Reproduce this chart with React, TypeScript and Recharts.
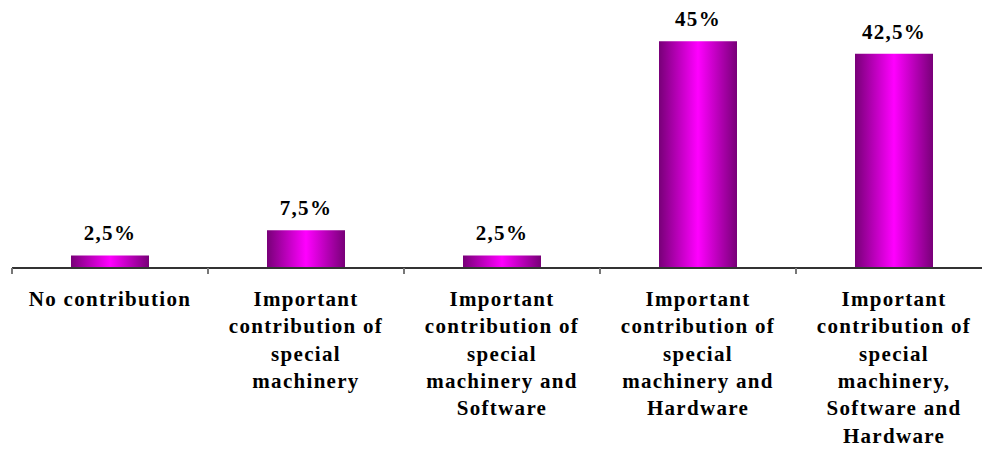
import React from 'react';
import { BarChart, Bar, XAxis, YAxis, LabelList } from 'recharts';

const categories = [
  'No contribution',
  'Important contribution of special machinery',
  'Important contribution of special machinery and Software',
  'Important contribution of special machinery and Hardware',
  'Important contribution of special machinery, Software and Hardware'
];

// wrapped lines of each category label, as in the picture
const categoryLines = [
  ['No contribution'],
  ['Important', 'contribution of', 'special', 'machinery'],
  ['Important', 'contribution of', 'special', 'machinery and', 'Software'],
  ['Important', 'contribution of', 'special', 'machinery and', 'Hardware'],
  ['Important', 'contribution of', 'special', 'machinery,', 'Software and', 'Hardware']
];

const shares = [2.5, 7.5, 2.5, 45, 42.5];

const data = categories.map((name, i) => ({ name, value: shares[i] }));

const CHART_W = 1000;
const MARGIN = { top: 16, right: 8, left: 12, bottom: 0 };
const HALF_BAND = (CHART_W - MARGIN.left - MARGIN.right) / categories.length / 2;
const textStyle = {
  fontFamily: "'Liberation Serif', 'Times New Roman', serif",
  fontWeight: 700,
  fontSize: 21,
  letterSpacing: 1.3
};

const CategoryTick = (props: any) => {
  const { x, y, index } = props;
  const lines = categoryLines[index] || [];
  return (
    <g>
      <line x1={x - HALF_BAND} y1={y} x2={x - HALF_BAND} y2={y + 6} stroke="#777" strokeWidth={2} />
      {index === categories.length - 1 && (
        <line x1={x + HALF_BAND} y1={y} x2={x + HALF_BAND} y2={y + 6} stroke="#777" strokeWidth={2} />
      )}
      <text x={x} y={y} textAnchor="middle" style={textStyle} fill="#000">
        {lines.map((l, i) => (
          <tspan key={i} x={x} y={y + 38 + i * 27.3}>
            {l}
          </tspan>
        ))}
      </text>
    </g>
  );
};

const ValueLabel = (props: any) => {
  const { x, y, width, value } = props;
  return (
    <text x={x + width / 2} y={y - 15} textAnchor="middle" style={textStyle} fill="#000">
      {String(value).replace('.', ',') + '%'}
    </text>
  );
};

export default function App() {
  return (
    <div style={{ position: 'absolute', left: 0, top: 0, width: 982, height: 450, overflow: 'hidden', background: '#fff' }}>
      <BarChart width={CHART_W} height={450} data={data} margin={MARGIN} barCategoryGap="30%">
        <defs>
          <linearGradient id="barGrad" x1="0" y1="0" x2="1" y2="0">
            <stop offset="0%" stopColor="#780078" />
            <stop offset="50%" stopColor="#ff00ff" />
            <stop offset="100%" stopColor="#780078" />
          </linearGradient>
        </defs>
        <XAxis
          dataKey="name"
          interval={0}
          height={182}
          tickSize={0}
          tickMargin={0}
          tickLine={false}
          axisLine={{ stroke: '#333', strokeWidth: 2 }}
          tick={<CategoryTick />}
        />
        <YAxis hide domain={[0, 50]} />
        <Bar dataKey="value" fill="url(#barGrad)" barSize={78} isAnimationActive={false}>
          <LabelList dataKey="value" content={<ValueLabel />} />
        </Bar>
      </BarChart>
    </div>
  );
}
